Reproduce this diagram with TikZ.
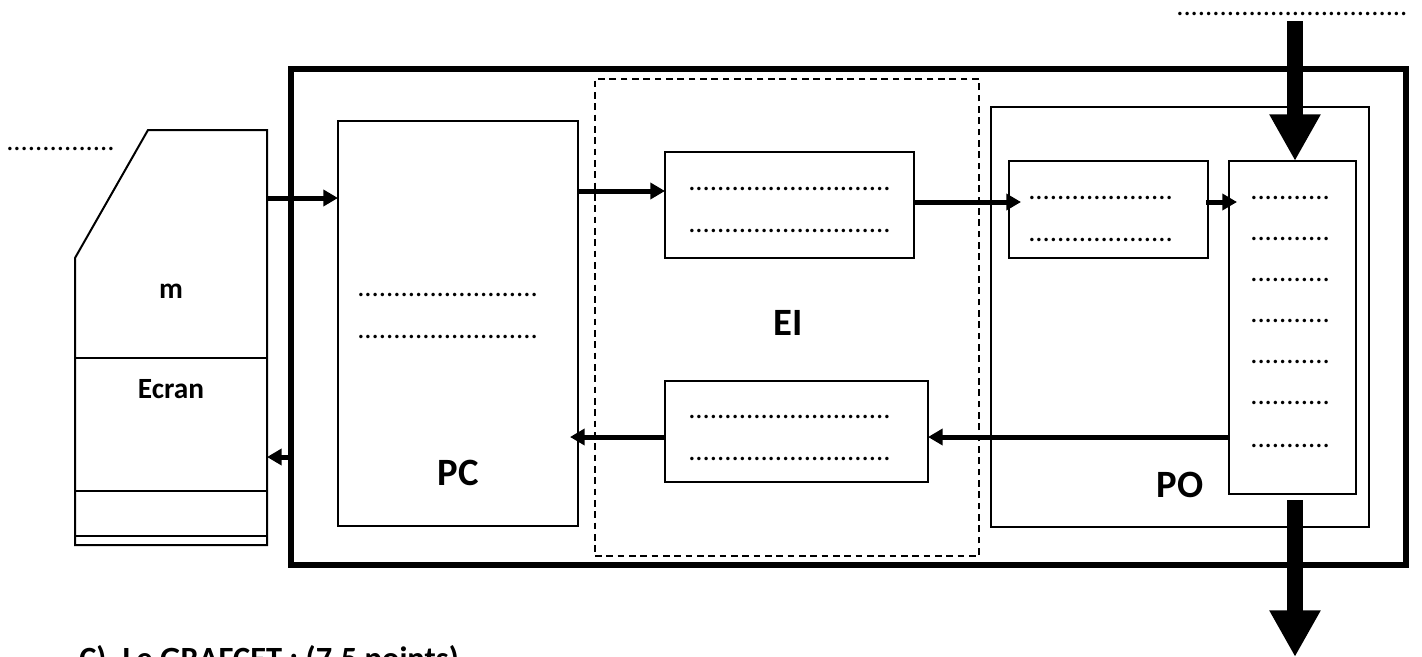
\documentclass[tikz,border=0pt]{standalone}
\usepackage{fontspec}
\setmainfont{Carlito}
\usetikzlibrary{calc, arrows.meta}
\tikzset{
  unit/.style={draw, line width=1.5pt, inner sep=0pt, outer sep=0pt},
  dotline/.style={anchor=base west, inner sep=0pt, font=\fontsize{21.5}{22}\selectfont},
  smalltag/.style={inner sep=0pt, font=\bfseries\fontsize{22}{22}\selectfont},
  bigtag/.style={inner sep=0pt, font=\bfseries\fontsize{29}{29}\selectfont},
  flow/.style={-{Triangle[length=11pt, width=12pt]}, line width=3.75pt},
  bigflow/.style={-{Triangle[length=35pt, width=36pt]}, line width=12pt}
}

\begin{document}
\begin{tikzpicture}[x=0.75pt, y=-0.75pt]
        \useasboundingbox (0,0) rectangle (1422,657);
        \node[unit, line width=4.5pt, minimum width=836.25pt, minimum height=372pt] (sys) at (848.5,317) {};
        \node[unit, dash pattern=on 5pt off 3.5pt, line width=1.1pt, minimum width=288pt, minimum height=357.75pt] (ei) at (787,317.5) {};
        \node[unit, minimum width=180pt, minimum height=303.75pt] (pc) at (458,323.5) {};
        \node[unit, minimum width=283.5pt, minimum height=315pt] (po) at (1180,317) {};
        \node[unit, minimum width=186.75pt, minimum height=79.5pt] (inter) at (789.5,205) {};
        \node[unit, minimum width=197.25pt, minimum height=75.75pt] (capt) at (796.5,431.5) {};
        \node[unit, minimum width=149.25pt, minimum height=72.75pt] (pre) at (1108.5,209.5) {};
        \node[unit, minimum width=95.25pt, minimum height=249.75pt] (act) at (1292.5,327.5) {};
        \draw[line width=1.5pt] (75,258)--(148,130)--(267,130)--(267,545)--(75,545)--cycle;
        \draw[line width=1.5pt] (75,358)--(267,358) (75,491)--(267,491) (75,536)--(267,536);
        \coordinate (mach) at (267,198);
        \coordinate (rowa) at (0,191);
        \coordinate (rowb) at (0,202);
        \coordinate (rowc) at (0,437);
        \coordinate (rowd) at (0,457);
        \coordinate (inlet) at (1295,21);
        \coordinate (outlet) at (1295,657);
        \draw[flow] (mach)--(pc.west |- mach);
        \draw[flow] (sys.west |- rowd)--(mach |- rowd);
        \draw[flow] (pc.east |- rowa)--(inter.west |- rowa);
        \draw[flow, shorten >=-9pt] (inter.east |- rowb)--(pre.west |- rowb);
        \draw[flow, shorten >=-6pt, shorten <=-1.5pt] (pre.east |- rowb)--(act.west |- rowb);
        \draw[flow] (act.west |- rowc)--(capt.east |- rowc);
        \draw[flow, shorten >=-6pt] (capt.west |- rowc)--(pc.east |- rowc);
        \draw[bigflow] (inlet)--(inlet |- act.north);
        \draw[bigflow, shorten <=4.5pt] (outlet |- act.south)--(outlet);
        \node[dotline] (top) at (1176,15) {................................};
        \node[dotline] (left) at (6,150) {...............};
        \foreach \y [count=\i] in {190,232}
          \node[dotline] (inter\i) at (688,\y) {............................};
        \foreach \y [count=\i] in {418,460}
          \node[dotline] (capt\i) at (688,\y) {............................};
        \foreach \y [count=\i] in {199,241}
          \node[dotline] (pre\i) at (1028,\y) {....................};
        \foreach \y [count=\i] in {296,338}
          \node[dotline] (pc\i) at (357,\y) {.........................};
        \foreach \y [count=\i] in {199,240,281,322,363,404,447}
          \node[dotline] (act\i) at (1250,\y) {...........};
        \node[smalltag] (mlab) at (171,291) {m};
        \node[smalltag] (ecran) at (171,389) {Ecran};
        \node[bigtag] (pclab) at (458,473) {PC};
        \node[bigtag] (eilab) at (788,323) {EI};
        \node[bigtag] (polab) at (1180,485) {PO};
        \node[smalltag, anchor=base west, font=\bfseries\fontsize{24.3}{24.3}\selectfont] (grafcet) at (79,669) {C)\enspace Le GRAFCET : (7.5 points)};
      \end{tikzpicture}
\end{document}
